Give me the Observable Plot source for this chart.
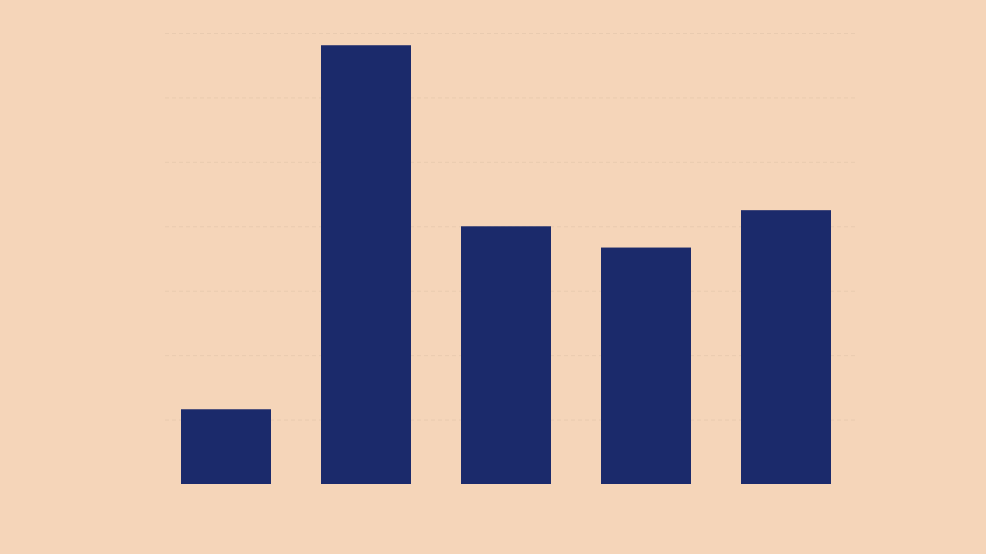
<!DOCTYPE html>
<html>
<head>
<meta charset="utf-8">
<script src="https://cdn.jsdelivr.net/npm/d3@7"></script>
<script src="https://cdn.jsdelivr.net/npm/@observablehq/plot@0.6"></script>
<style>
  html, body { margin: 0; padding: 0; background: #f5d5b9; }
  #chart svg { display: block; }
</style>
</head>
<body>
<div id="chart"></div>
<script>
const categories = ["A", "B", "C", "D", "E"];
const values = [1.16, 6.81, 4.0, 3.67, 4.25];
const gridTicks = [1, 2, 3, 4, 5, 6, 7];

const data = categories.map((c, i) => ({category: c, value: values[i]}));

const chart = Plot.plot({
  width: 986,
  height: 554,
  marginTop: 33,
  marginBottom: 70,
  marginLeft: 131,
  marginRight: 105,
  style: {background: "#f5d5b9"},
  x: {domain: categories, padding: 0.357, axis: null},
  y: {domain: [0, 7], axis: null},
  marks: [
    Plot.ruleY(gridTicks, {stroke: "#e9cbb0", strokeWidth: 1, strokeDasharray: "4,3", insetLeft: 34, insetRight: 23}),
    Plot.barY(data, {x: "category", y: "value", fill: "#1b2a6b"})
  ]
});
document.getElementById("chart").appendChild(chart);
</script>
</body>
</html>
